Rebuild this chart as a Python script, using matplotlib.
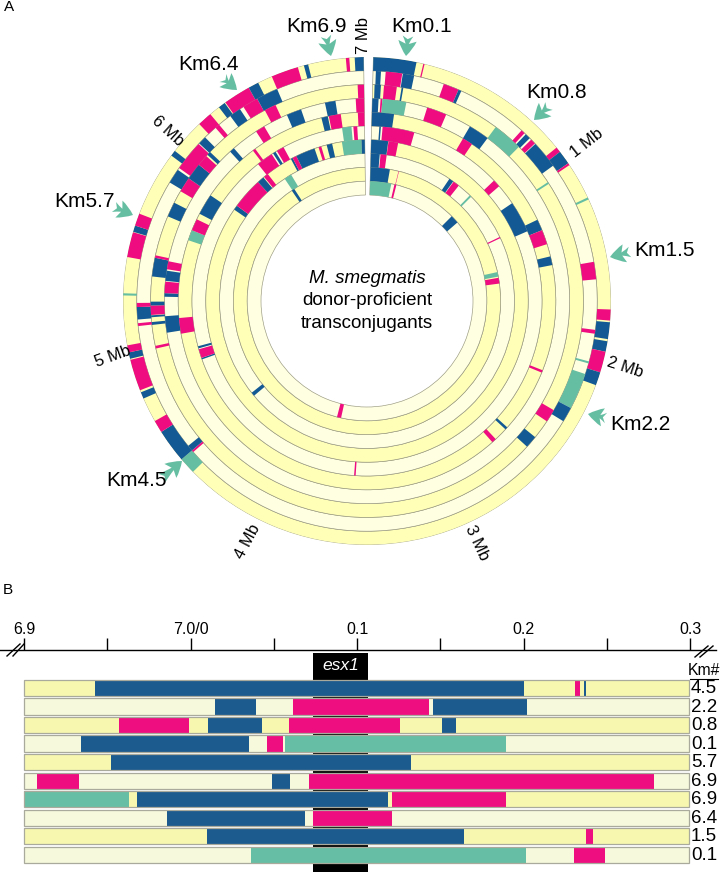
import matplotlib
matplotlib.use('Agg')
import matplotlib.pyplot as plt
from matplotlib.patches import FancyArrowPatch
import numpy as np

plt.rcParams['font.family'] = ['Liberation Sans', 'DejaVu Sans']

# Colours -------------------------------------
colores = {'b': '#135A94', 'm': '#EE0C80', 't': '#66BEA2'}
amarillo = '#FFFFB8'
palido = '#FFFFE2'
colores_b = {'b': '#1B5B8E', 'm': '#EE0E80', 't': '#66BFA4', 'y': '#F7F7AF', 'p': '#F6F9DC'}

# Panel A: segments per ring in Mb, outer ring first ----------------
anillo0 = [(0, .2, 'b'), (.232, .238, 'm'), (.969, .994, 'm'), (.994, 1.059, 'b'), (1.059, 1.069, 'm'),
           (1.24, 1.25, 't'), (1.771, 1.822, 'm'), (1.83, 1.908, 'b'), (1.918, 1.967, 'b'), (1.967, 2.065, 'm'),
           (2.065, 2.127, 'b'), (4.384, 4.462, 't'), (4.462, 4.619, 'b'), (4.619, 4.677, 'm'), (4.793, 4.824, 'b'),
           (4.834, 4.981, 'm'), (4.986, 5.016, 'b'), (5.016, 5.049, 'm'), (5.28, 5.29, 't'), (5.458, 5.575, 'm'),
           (5.577, 5.607, 'b'), (5.607, 5.665, 'm'), (5.971, 5.998, 'b'), (6.165, 6.233, 'm'), (6.284, 6.317, 'b'),
           (6.321, 6.448, 'm'), (6.448, 6.497, 'b'), (6.566, 6.693, 'm'), (6.722, 6.742, 'b'), (6.918, 6.934, 'm'),
           (6.959, 7.0, 'b')]
anillo1 = [(.014, .039, 'b'), (.062, .143, 'm'), (.146, .202, 'b'), (.352, .429, 'm'), (.429, .444, 'b'),
           (.796, .816, 'm'), (.824, .851, 'b'), (.861, .887, 'm'), (.89, 1.027, 'b'), (1.54, 1.626, 'm'),
           (1.873, 1.892, 'm'), (2.03, 2.04, 't'), (2.094, 2.274, 't'), (2.274, 2.348, 'b'), (4.452, 4.462, 'm'),
           (4.462, 4.491, 'b'), (5.132, 5.146, 'm'), (5.164, 5.225, 'b'), (5.225, 5.245, 'm'), (5.861, 5.934, 'b'),
           (5.945, 6.096, 'm'), (6.1, 6.141, 'b'), (6.21, 6.233, 'm'), (6.302, 6.36, 'b'), (6.38, 6.458, 'm'),
           (6.458, 6.566, 'b')]
anillo2 = [(.01, .043, 'b'), (.059, .126, 'm'), (.151, .16, 'b'), (.685, .843, 't'), (1.08, 1.09, 't'),
           (2.325, 2.393, 'm'), (2.495, 2.56, 'b'), (5.006, 5.02, 'm'), (5.13, 5.145, 'b'), (5.17, 5.18, 'b'),
           (5.182, 5.231, 'm'), (5.231, 5.251, 'b'), (5.382, 5.48, 'b'), (5.48, 5.493, 'm'), (5.705, 5.783, 'b'),
           (5.851, 5.93, 'm'), (5.93, 6.018, 'b'), (6.018, 6.077, 'm'), (6.086, 6.106, 'b'), (6.464, 6.526, 'm'),
           (6.967, 7.0, 'm')]
anillo3 = [(0, .035, 'b'), (.046, .056, 'm'), (.056, .19, 't'), (.309, .421, 'm'), (.568, .685, 'b'),
           (5.078, 5.17, 'b'), (5.278, 5.298, 'b'), (5.298, 5.362, 'm'), (5.366, 5.423, 'b'), (5.431, 5.476, 'm'),
           (6.184, 6.212, 'b'), (6.366, 6.419, 'm'), (6.56, 6.644, 'b'), (6.781, 6.84, 'b'), (6.953, 7.0, 'm')]
anillo4 = [(0, .132, 'b'), (.569, .632, 'm'), (1.233, 1.301, 'b'), (1.301, 1.389, 'm'), (1.464, 1.517, 'b'),
           (2.153, 2.168, 'm'), (2.554, 2.57, 'b'), (2.652, 2.679, 'm'), (5.059, 5.153, 'm'), (5.622, 5.685, 't'),
           (5.685, 5.756, 'm'), (5.793, 5.92, 'b'), (6.288, 6.305, 'm'), (6.742, 6.781, 'b'), (6.787, 6.859, 'm'),
           (6.961, 7.0, 'm')]
anillo5 = [(.05, .06, 'b'), (.071, .278, 'm'), (.881, .93, 'm'), (1.067, 1.272, 'b'), (3.566, 3.576, 'm'),
           (4.873, 4.883, 'b'), (4.883, 4.941, 'm'), (4.947, 4.961, 'b'), (6.262, 6.37, 'm'), (6.38, 6.399, 'b'),
           (6.409, 6.458, 'm'), (6.855, 6.916, 't'), (6.928, 6.953, 'm')]
anillo6 = [(0, .119, 'b'), (.121, .189, 'm'), (5.93, 5.963, 'b'), (5.963, 6.184, 'm'), (6.184, 6.233, 'b'),
           (6.239, 6.272, 'm'), (6.464, 6.478, 'b'), (6.478, 6.507, 'm'), (6.507, 6.644, 'b'), (6.673, 6.693, 'm'),
           (6.732, 6.771, 'b'), (6.84, 6.977, 't'), (6.977, 7.0, 'b')]
anillo7 = [(0, .068, 'b'), (.074, .121, 'm'), (.636, .671, 'b'), (.675, .724, 'm'), (.836, .851, 't'),
           (1.228, 1.238, 'm'), (4.472, 4.501, 'b'), (6.351, 6.409, 't')]
anillo8 = [(0, .164, 'b'), (.2376, .2416, 'm'), (1.487, 1.526, 't'), (1.536, 1.585, 'm'), (6.345, 6.37, 'b')]
anillo9 = [(0, .2, 't'), (.23, .249, 'm'), (.851, .93, 'b'), (3.738, 3.777, 'm')]
anillos = [anillo0, anillo1, anillo2, anillo3, anillo4, anillo5, anillo6, anillo7, anillo8, anillo9]

# Panel B: segments per row, 7.0 is the origin so 0.1 is 7.1 here ----
fila0 = [(6.9, 6.9426, 'y'), (6.9426, 7.2004, 'b'), (7.2004, 7.2308, 'y'), (7.2308, 7.2336, 'm'), (7.2336, 7.236, 'y'),
         (7.236, 7.2376, 'b'), (7.2376, 7.2994, 'y')]
fila1 = [(6.9, 7.0144, 'p'), (7.0144, 7.039, 'b'), (7.039, 7.0616, 'p'), (7.0616, 7.1434, 'm'), (7.1434, 7.1456, 'p'),
         (7.1456, 7.2022, 'b'), (7.2022, 7.2994, 'p')]
fila2 = [(6.9, 6.957, 'y'), (6.957, 6.999, 'm'), (6.999, 7.0102, 'y'), (7.0102, 7.0428, 'b'), (7.0428, 7.059, 'y'),
         (7.059, 7.126, 'm'), (7.126, 7.1508, 'y'), (7.1508, 7.1596, 'b'), (7.1596, 7.2994, 'y')]
fila3 = [(6.9, 6.9344, 'p'), (6.9344, 7.0348, 'b'), (7.0348, 7.046, 'p'), (7.046, 7.0556, 'm'), (7.0556, 7.0564, 'p'),
         (7.0564, 7.1896, 't'), (7.1896, 7.2994, 'p')]
fila4 = [(6.9, 6.952, 'y'), (6.952, 7.1324, 'b'), (7.1324, 7.2994, 'y')]
fila5 = [(6.9, 6.9076, 'p'), (6.9076, 6.9332, 'm'), (6.9332, 7.0488, 'p'), (7.0488, 7.0598, 'b'), (7.0598, 7.071, 'p'),
         (7.071, 7.278, 'm'), (7.278, 7.2994, 'p')]
fila6 = [(6.9, 6.9628, 't'), (6.9628, 6.968, 'y'), (6.968, 7.1188, 'b'), (7.1188, 7.1208, 'y'), (7.1208, 7.1894, 'm'),
         (7.1894, 7.2994, 'y')]
fila7 = [(6.9, 6.9856, 'p'), (6.9856, 7.0684, 'b'), (7.0684, 7.0736, 'p'), (7.0736, 7.121, 'm'), (7.121, 7.2994, 'p')]
fila8 = [(6.9, 7.0098, 'y'), (7.0098, 7.164, 'b'), (7.164, 7.2376, 'y'), (7.2376, 7.2416, 'm'), (7.2416, 7.2994, 'y')]
fila9 = [(6.9, 7.036, 'p'), (7.036, 7.2012, 't'), (7.2012, 7.2302, 'p'), (7.2302, 7.2488, 'm'), (7.2488, 7.2994, 'p')]
filas = [fila0, fila1, fila2, fila3, fila4, fila5, fila6, fila7, fila8, fila9]
km_filas = ['4.5', '2.2', '0.8', '0.1', '5.7', '6.9', '6.9', '6.4', '1.5', '0.1']
ticks_b = [6.9, 7.0, 7.1, 7.2, 7.3]
ticks_menores = [6.95, 7.05, 7.15, 7.25]
etiquetas_b = ['6.9', '7.0/0', '0.1', '0.2', '0.3']

# Labels round the circle
km_textos = ['Km0.1', 'Km6.9', 'Km6.4', 'Km5.7', 'Km0.8', 'Km1.5', 'Km2.2', 'Km4.5']
km_pos = [(422, 27), (317, 26), (209, 64), (85, 201), (557, 92), (665, 250), (640, 424), (137, 480)]
km_flechas = [((408, 36), (406, 56)), ((326, 36), (331, 56)), ((223, 78), (237, 90)), ((114, 207), (133, 215)),
              ((549, 106), (534, 120)), ((630, 252), (610, 257)), ((606, 418), (588, 414)), ((162, 478), (182, 461))]
mb_textos = ['7 Mb', '1 Mb', '2 Mb', '3 Mb', '4 Mb', '5 Mb', '6 Mb']
mb_pos = [(364, 36), (587, 143), (625, 367), (477, 543), (248, 542), (113, 356), (168, 131)]
mb_rot = [90, 38, -18, -65, 62, 20, -42]

fig = plt.figure(figsize=(7.22, 8.72), dpi=100)
W, H = 722.0, 872.0

#Panel A--------------------------------------
cx, cy, R = 367.0, 301.0, 244.0
r_hueco, ancho = 106.0, 13.8

ax = fig.add_axes([(cx - R) / W, 1 - (cy + R) / H, 2 * R / W, 2 * R / H], projection='polar')
ax.set_theta_zero_location('N')
ax.set_theta_direction(-1)
ax.set_rlim(0, R)
ax.axis('off')


def angulo(mb):
    return np.radians(1.5 + np.asarray(mb) * 51.1)


for i, segmentos in enumerate(anillos):
    base = R - ancho * (i + 1)
    fondo = amarillo if i % 2 == 0 else palido
    ax.bar(angulo(0), ancho, width=angulo(7) - angulo(0), bottom=base, align='edge',
           color=fondo, edgecolor='#96967E', linewidth=0.45, zorder=1)
    for ini, fin, tipo in segmentos:
        ax.bar(angulo(ini), ancho, width=angulo(fin) - angulo(ini), bottom=base, align='edge',
               color=colores[tipo], linewidth=0, zorder=2)

#Panel B--------------------------------------
# 6.9 sits at x=24 px and 0.3 at x=690 px; row 0 is centred at y=688 px
px_mb = (690.3 - 24.0) / 0.4
y_ini, y_paso = 688.0, 18.53
y_top = 600.0
axb = fig.add_axes([0, 0, 1, (H - y_top) / H])
axb.set_xlim(6.9 - 24.0 / px_mb, 6.9 + (W - 24.0) / px_mb)
axb.set_ylim((H - y_ini) / y_paso, (y_top - y_ini) / y_paso)
axb.patch.set_visible(False)
for lado in ['left', 'right', 'bottom']:
    axb.spines[lado].set_visible(False)
axb.spines['top'].set_position(('data', (650 - y_ini) / y_paso))
axb.spines['top'].set_linewidth(1.0)
axb.spines['top'].set_bounds(6.9 - 24.0 / px_mb, 6.9 + (716 - 24.0) / px_mb)
axb.xaxis.tick_top()
axb.set_yticks([])
axb.set_xticks(ticks_b)
axb.set_xticklabels(etiquetas_b, fontsize=11.5)
axb.set_xticks(ticks_menores, minor=True)
axb.tick_params(axis='x', which='both', length=8.5, width=1.0, pad=1)

axb.bar(7.0 + (313 - 24) / px_mb - 0.1, (H - 653) / y_paso, width=55 / px_mb, bottom=(653 - y_ini) / y_paso,
        align='edge', color='black', zorder=1)
axb.text(7.0 + (341 - 24) / px_mb - 0.1, (666 - y_ini) / y_paso, 'esx1', color='white', style='italic',
         fontsize=12.5, ha='center', va='center', zorder=3)

for i, segmentos in enumerate(filas):
    for ini, fin, tipo in segmentos:
        axb.barh(i, fin - ini, left=ini, height=16.2 / y_paso, color=colores_b[tipo], linewidth=0, zorder=2)
    axb.barh(i, 7.2994 - 6.9, left=6.9, height=16.2 / y_paso, fill=False, edgecolor='#A9A99C', linewidth=0.9, zorder=3)
    axb.text(6.9 + (691 - 24) / px_mb, i + 0.03, km_filas[i], fontsize=13.5, ha='left', va='center')

#Text and arrows on top, in pixels-------------
top = fig.add_axes([0, 0, 1, 1])
top.set_xlim(0, W)
top.set_ylim(H, 0)
top.axis('off')

top.text(9, 7, 'A', fontsize=11, ha='center', va='center')
top.text(8, 590, 'B', fontsize=11, ha='center', va='center')

for txt, (x, y) in zip(km_textos, km_pos):
    top.text(x, y, txt, fontsize=15, ha='center', va='center')
for ini, fin in km_flechas:
    top.add_patch(FancyArrowPatch(ini, fin, arrowstyle='fancy,head_length=0.5,head_width=0.6,tail_width=0.35',
                                  mutation_scale=22, color=colores['t'], linewidth=0, shrinkA=0, shrinkB=0))
for txt, (x, y), rot in zip(mb_textos, mb_pos, mb_rot):
    top.text(x, y, txt, fontsize=12, rotation=rot, rotation_mode='anchor', ha='center', va='center')

top.text(367, 278, 'M. smegmatis', fontsize=13.5, style='italic', ha='center', va='center')
top.text(367, 300, 'donor-proficient', fontsize=13.5, ha='center', va='center')
top.text(367, 323, 'transconjugants', fontsize=13.5, ha='center', va='center')

top.text(704, 670, 'Km#', fontsize=11.3, ha='center', va='center')
top.plot([690, 718], [679, 679], color='black', linewidth=0.8)

# axis break marks
for x0, x1, y0, y1 in [(7, 20, 656, 644), (13, 24, 656, 644), (695, 708, 657, 646), (700, 713, 657, 646)]:
    top.plot([x0, x1], [y0, y1], color='black', linewidth=1.0)

fig.savefig('out.png', dpi=100)
